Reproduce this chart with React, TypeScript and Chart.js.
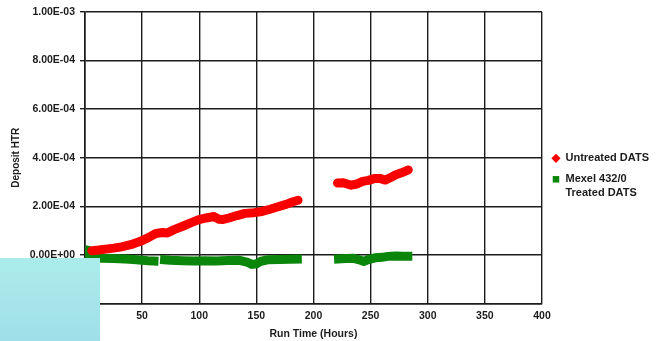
import React, { useEffect, useRef } from 'react';
import { Chart, registerables } from 'chart.js';

Chart.register(...registerables);

// ---- data ----
const untreatedHours = [6, 12, 18, 25, 32, 40, 48, 55, 62, 68, 72, 78, 85, 92, 99, 106, 113, 117, 121, 126, 133, 140, 148, 155, 162, 169, 176, 182, 186.5, 205, 221, 226, 233, 238, 243, 248, 254, 258, 263, 268, 272, 277, 281, 283];
const untreatedValues: (number | null)[] = [1.7e-5, 2.0e-5, 2.4e-5, 2.8e-5, 3.3e-5, 4.2e-5, 5.5e-5, 7.0e-5, 8.8e-5, 9.2e-5, 9.0e-5, 1.04e-4, 1.17e-4, 1.31e-4, 1.44e-4, 1.52e-4, 1.58e-4, 1.47e-4, 1.46e-4, 1.52e-4, 1.62e-4, 1.71e-4, 1.74e-4, 1.79e-4, 1.88e-4, 1.98e-4, 2.08e-4, 2.19e-4, 2.25e-4, null, 2.96e-4, 2.97e-4, 2.87e-4, 2.92e-4, 3.03e-4, 3.07e-4, 3.15e-4, 3.15e-4, 3.08e-4, 3.20e-4, 3.30e-4, 3.38e-4, 3.46e-4, 3.50e-4];

const mexelHours = [0, 2, 4, 15, 25, 35, 45, 55, 64.3, 65, 65.7, 75, 85, 95, 105, 115, 125, 135, 142, 146, 150, 154, 160, 170, 180, 189.8, 205, 218, 228, 235, 240, 244, 248, 254, 260, 265, 272, 278, 286.5];
const mexelValues: (number | null)[] = [2.2e-5, 2.0e-5, -1.2e-5, -1.4e-5, -1.5e-5, -1.7e-5, -2.0e-5, -2.4e-5, -2.6e-5, null, -1.9e-5, -2.2e-5, -2.4e-5, -2.5e-5, -2.4e-5, -2.5e-5, -2.3e-5, -2.2e-5, -3.0e-5, -3.9e-5, -3.7e-5, -2.6e-5, -2.0e-5, -1.9e-5, -1.8e-5, -1.7e-5, null, -1.8e-5, -1.5e-5, -1.4e-5, -2.0e-5, -2.7e-5, -1.9e-5, -1.2e-5, -1.0e-5, -0.6e-5, -0.4e-5, -0.5e-5, -0.5e-5];

const xTickValues = [0, 50, 100, 150, 200, 250, 300, 350, 400];
const yTickValues = [-2e-4, 0, 2e-4, 4e-4, 6e-4, 8e-4, 1e-3];

const seriesLabels = ['Untreated DATS', 'Mexel 432/0 Treated DATS'];
const legendLines: string[][] = [['Untreated DATS'], ['Mexel 432/0', 'Treated DATS']];
const xAxisTitle = 'Run Time (Hours)';
const yAxisTitle = 'Deposit HTR';

const RED = '#f80000';
const GREEN = '#0a870a';
const INK = '#1c1c1c';
const FONT = 'Arial, "Liberation Sans", Helvetica, sans-serif';

function sci(v: number): string {
  if (Math.abs(v) < 1e-12) return '0.00E+00';
  const [m, e] = v.toExponential(2).split('e');
  const n = parseInt(e, 10);
  return `${m}E${n < 0 ? '-' : '+'}${String(Math.abs(n)).padStart(2, '0')}`;
}

export default function App() {
  const ref = useRef<HTMLCanvasElement | null>(null);

  useEffect(() => {
    if (!ref.current) return;
    const chart = new Chart(ref.current, {
      type: 'line',
      data: {
        datasets: [
          {
            label: seriesLabels[0],
            data: untreatedHours.map((x, i) => ({ x, y: untreatedValues[i] })) as any,
            borderColor: RED,
            backgroundColor: RED,
            borderWidth: 9,
            borderCapStyle: 'round',
            borderJoinStyle: 'round',
            pointRadius: 0,
            tension: 0,
            spanGaps: false,
          },
          {
            label: seriesLabels[1],
            data: mexelHours.map((x, i) => ({ x, y: mexelValues[i] })) as any,
            borderColor: GREEN,
            backgroundColor: GREEN,
            borderWidth: 9,
            borderCapStyle: 'butt',
            borderJoinStyle: 'miter',
            pointRadius: 0,
            tension: 0,
            spanGaps: false,
          },
        ],
      },
      options: {
        animation: false,
        responsive: false,
        events: [],
        layout: { padding: { top: 12, left: 0, right: 2, bottom: 0 } },
        scales: {
          x: {
            type: 'linear',
            min: 0,
            max: 400,
            afterBuildTicks: (s: any) => {
              s.ticks = xTickValues.map((value) => ({ value }));
            },
            afterFit: (s: any) => {
              s.height = 37.5;
            },
            grid: { color: INK, lineWidth: 1.4, drawTicks: false },
            border: { color: INK, width: 1.6 },
            ticks: {
              color: INK,
              padding: 6,
              font: { family: FONT, size: 10.5, weight: 'bold' },
              maxRotation: 0,
            },
            title: {
              display: true,
              text: xAxisTitle,
              color: INK,
              font: { family: FONT, size: 10.5, weight: 'bold' },
              padding: { top: 0, bottom: 0.7 },
            },
          },
          y: {
            type: 'linear',
            min: -2e-4,
            max: 1e-3,
            afterBuildTicks: (s: any) => {
              s.ticks = yTickValues.map((value) => ({ value }));
            },
            afterFit: (s: any) => {
              s.width = 85;
            },
            grid: { color: INK, lineWidth: 1.4, drawTicks: true, tickLength: 5, tickColor: INK },
            border: { color: INK, width: 1.6 },
            ticks: {
              color: INK,
              padding: 5,
              font: { family: FONT, size: 10.5, weight: 'bold' },
              callback: (v: any) => sci(Number(v)),
            },
            title: {
              display: true,
              text: yAxisTitle,
              color: INK,
              font: { family: FONT, size: 10, weight: 'bold' },
              padding: { top: 10, bottom: 0 },
            },
          },
        },
        plugins: {
          tooltip: { enabled: false },
          legend: {
            position: 'right',
            align: 'center',
            labels: {
              usePointStyle: true,
              boxWidth: 8,
              boxHeight: 6.5,
              padding: 10,
              color: INK,
              font: { family: FONT, size: 11, weight: 'bold' },
              generateLabels: (c: any) =>
                c.data.datasets.map((ds: any, i: number) => ({
                  text: legendLines[i].length === 1 ? legendLines[i][0] : legendLines[i],
                  fillStyle: ds.borderColor,
                  strokeStyle: ds.borderColor,
                  fontColor: INK,
                  lineWidth: 0,
                  pointStyle: i === 0 ? 'rectRot' : 'rect',
                  hidden: false,
                  datasetIndex: i,
                })),
            },
          },
        },
      } as any,
    });
    return () => chart.destroy();
  }, []);

  return (
    <div style={{ position: 'fixed', left: 0, top: 0, width: 661, height: 341, background: '#fff' }}>
      <canvas ref={ref} width={661} height={341} style={{ display: 'block', width: 661, height: 341 }} />
      <div
        style={{
          position: 'absolute',
          left: 0,
          top: 258,
          width: 100,
          height: 83,
          background: 'linear-gradient(to bottom, #abeceb, #9fdfe9)',
        }}
      />
    </div>
  );
}
